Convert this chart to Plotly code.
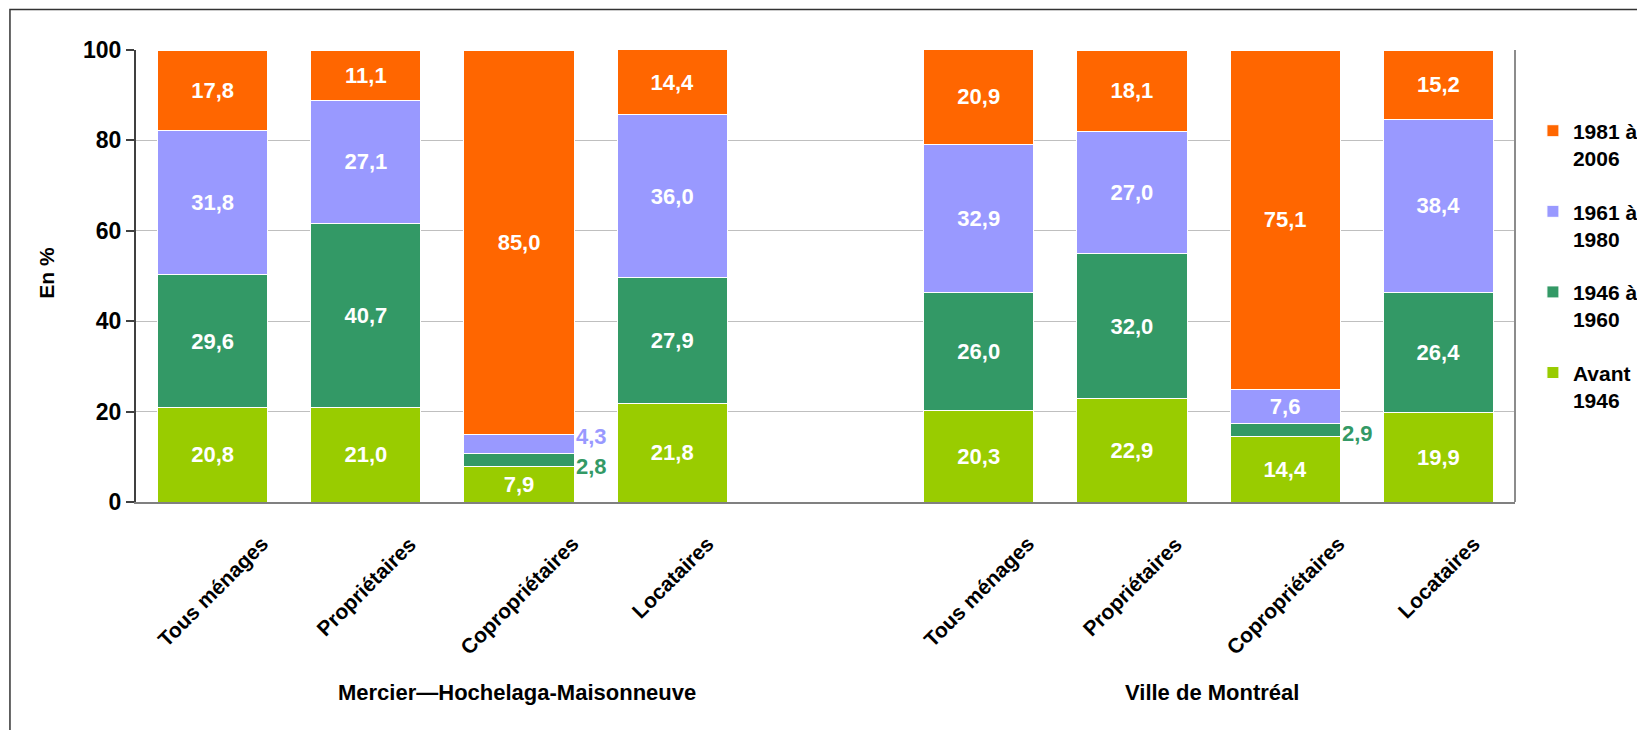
import plotly.graph_objects as go

# ---- data ----
categories = ["Tous ménages", "Propriétaires", "Copropriétaires", "Locataires",
              "Tous ménages", "Propriétaires", "Copropriétaires", "Locataires"]
x_pos = [0, 1, 2, 3, 5, 6, 7, 8]
groups = ["Mercier\u2014Hochelaga-Maisonneuve", "Ville de Montréal"]

avant_1946 = [20.8, 21.0, 7.9, 21.8, 20.3, 22.9, 14.4, 19.9]
p1946_1960 = [29.6, 40.7, 2.8, 27.9, 26.0, 32.0, 2.9, 26.4]
p1961_1980 = [31.8, 27.1, 4.3, 36.0, 32.9, 27.0, 7.6, 38.4]
p1981_2006 = [17.8, 11.1, 85.0, 14.4, 20.9, 18.1, 75.1, 15.2]

series_names = ["Avant<br>1946", "1946 à<br>1960", "1961 à<br>1980", "1981 à<br>2006"]
series_vals = [avant_1946, p1946_1960, p1961_1980, p1981_2006]
colors = ["#99CC00", "#339966", "#9999FF", "#FF6600"]

FONT = "Liberation Sans, Arial, sans-serif"

def fmt(v):
    return f"{v:.1f}".replace(".", ",")

# segments whose labels are drawn outside the bar (series index, bar index)
outside = {(1, 2), (2, 2), (1, 6)}

fig = go.Figure()
n = len(series_names)
for si, (name, vals, col) in enumerate(zip(series_names, series_vals, colors)):
    texts = ["" if (si, bi) in outside else fmt(v) for bi, v in enumerate(vals)]
    fig.add_trace(go.Bar(
        x=x_pos, y=vals, name=name, legendgroup=str(si), legendrank=n - si,
        marker=dict(color=col, line=dict(color="white", width=1)),
        text=texts, textposition="inside", insidetextanchor="middle",
        textangle=0,
        textfont=dict(family=FONT, size=22, color="white", weight="bold"),
        hoverinfo="skip",
    ))

annotations = []
# outside labels for thin segments
bases = [0.0] * len(x_pos)
cum = []
for vals in series_vals:
    cum.append(list(bases))
    bases = [b + v for b, v in zip(bases, vals)]
shift = {(1, 2): -7, (2, 2): 7, (1, 6): -3}
for (si, bi) in outside:
    v = series_vals[si][bi]
    mid = cum[si][bi] + v / 2
    annotations.append(dict(
        x=x_pos[bi] + 0.36, y=mid, xref="x", yref="y", xanchor="left", yanchor="middle",
        text=fmt(v), showarrow=False, yshift=shift[(si, bi)],
        font=dict(family=FONT, size=22, color=colors[si], weight="bold"),
    ))

# category labels (rotated)
for xp, cat in zip(x_pos, categories):
    annotations.append(dict(
        x=xp, y=-0.06, xref="x", yref="paper", xanchor="center", yanchor="top",
        text=cat, textangle=-45, showarrow=False,
        font=dict(family=FONT, size=21, color="black", weight="bold"),
    ))

# group labels
for gx, g in zip([0.276, 0.780], groups):
    annotations.append(dict(
        x=gx, y=-0.4215, xref="paper", yref="paper", xanchor="center", yanchor="middle",
        text=g, showarrow=False,
        font=dict(family=FONT, size=22, color="black", weight="bold"),
    ))

# y axis title
annotations.append(dict(
    x=-0.065, y=0.508, xref="paper", yref="paper", xanchor="center", yanchor="middle",
    text="En %", textangle=-90, showarrow=False,
    font=dict(family=FONT, size=21, color="black", weight="bold"),
))

shapes = [
    # right border of plot area
    dict(type="line", xref="paper", yref="paper", x0=1, x1=1, y0=0, y1=1,
         line=dict(color="#8C8C8C", width=2)),
    # outer chart border
    dict(type="rect", xref="paper", yref="paper", x0=-0.0914, x1=1.2, y0=-0.6, y1=1.0896,
         line=dict(color="#333333", width=1.5), fillcolor="rgba(0,0,0,0)"),
]

fig.update_layout(
    width=1645, height=730,
    barmode="stack", bargap=0.28,
    paper_bgcolor="white", plot_bgcolor="white",
    margin=dict(l=128, r=138, t=42, b=236, autoexpand=False),
    font=dict(family=FONT, color="black"),
    xaxis=dict(range=[-0.5, 8.5], showticklabels=False, ticks="", showgrid=False,
               zeroline=False, showline=True, linecolor="#808080", linewidth=2),
    yaxis=dict(range=[0, 100], dtick=20, showgrid=True, gridcolor="#BFBFBF", gridwidth=1,
               zeroline=False, showline=True, linecolor="#404040", linewidth=2,
               ticks="outside", ticklen=8, tickcolor="#404040", tickwidth=1.5,
               tickfont=dict(family=FONT, size=23, color="black", weight="bold")),
    legend=dict(x=1.0130, y=0.866, xanchor="left", yanchor="top",
                traceorder="grouped", valign="top", tracegroupgap=23,
                font=dict(family=FONT, size=21, color="black", weight="bold"),
                bgcolor="rgba(0,0,0,0)"),
    annotations=annotations,
    shapes=shapes,
    showlegend=True,
)

fig.write_html("out.html")
